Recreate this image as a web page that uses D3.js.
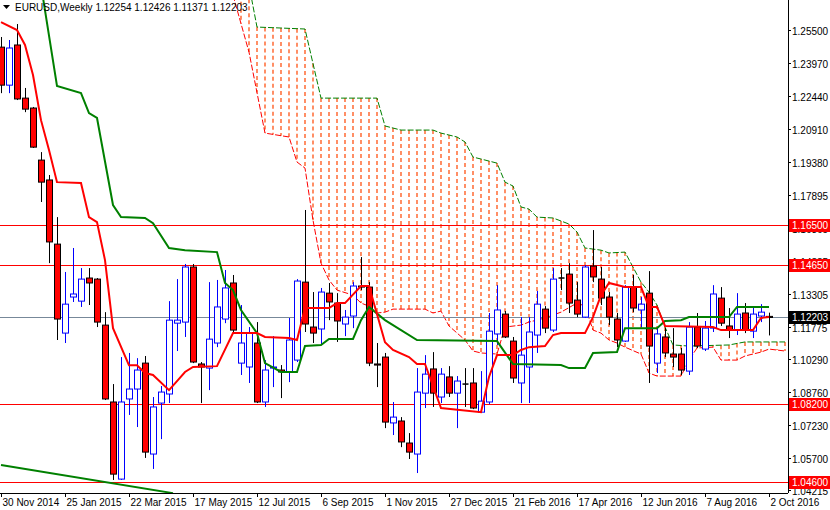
<!DOCTYPE html>
<html>
<head>
<meta charset="utf-8">
<script src="https://cdn.jsdelivr.net/npm/d3@7.9.0/dist/d3.min.js"></script>
<style>
  body { margin: 0; background: #fff; }
  svg { display: block; font-family: "Liberation Sans", Arial, sans-serif; }
</style>
</head>
<body>
<svg id="chart" width="830" height="510"></svg>
<script>
// weekly candles [open, high, low, close], first bar = 30 Nov 2014
const candles = [
  [1.2472,1.2519,1.2259,1.2296],[1.2296,1.2505,1.2259,1.2468],[1.2482,1.2579,1.2227,1.2232],
  [1.2236,1.2283,1.2171,1.2185],[1.2190,1.2195,1.2005,1.2009],[1.1949,1.1986,1.1755,1.1847],
  [1.1857,1.1880,1.1472,1.1570],[1.1560,1.1685,1.1116,1.1213],[1.1148,1.1431,1.1102,1.1282],
  [1.1315,1.1542,1.1292,1.1329],[1.1296,1.1449,1.1269,1.1398],[1.1403,1.1449,1.1278,1.1380],
  [1.1398,1.1403,1.1176,1.1199],[1.1185,1.1245,1.0838,1.0843],[1.0829,1.0912,1.0468,1.0495],
  [1.0472,1.1037,1.0468,1.0829],[1.0843,1.1056,1.0769,1.0889],[1.0889,1.1032,1.0713,1.0977],
  [1.1009,1.1042,1.0570,1.0597],[1.0588,1.0852,1.0519,1.0806],[1.0824,1.0903,1.0657,1.0875],
  [1.0866,1.1296,1.0824,1.1208],[1.1194,1.1398,1.1065,1.1208],[1.1199,1.1468,1.1130,1.1454],
  [1.1454,1.1468,1.1009,1.1014],[1.1005,1.1014,1.0824,1.0991],[1.0986,1.1384,1.0884,1.1120],
  [1.1102,1.1394,1.1083,1.1269],[1.1213,1.1440,1.1194,1.1357],[1.1380,1.1417,1.1148,1.1162],
  [1.1009,1.1278,1.0954,1.1102],[1.0991,1.1176,1.0917,1.1148],[1.1102,1.1199,1.0824,1.0829],
  [1.0829,1.1023,1.0806,1.0977],[1.0986,1.1134,1.0898,1.0991],[1.0977,1.1000,1.0847,1.0968],
  [1.0968,1.1218,1.0921,1.1116],[1.1023,1.1398,1.1014,1.1389],[1.1384,1.1718,1.1153,1.1190],
  [1.1176,1.1338,1.1102,1.1148],[1.1167,1.1357,1.1093,1.1338],[1.1333,1.1380,1.1208,1.1292],
  [1.1287,1.1333,1.1107,1.1204],[1.1190,1.1255,1.1134,1.1222],[1.1227,1.1384,1.1171,1.1366],
  [1.1366,1.1500,1.1347,1.1361],[1.1361,1.1384,1.0995,1.1009],[1.1005,1.1102,1.0898,1.1000],
  [1.1037,1.1056,1.0708,1.0736],[1.0732,1.0829,1.0676,1.0759],[1.0741,1.0759,1.0620,1.0644],
  [1.0639,1.0685,1.0565,1.0597],[1.0588,1.0986,1.0500,1.0875],[1.0870,1.1046,1.0801,1.0958],
  [1.0982,1.1060,1.0806,1.0870],[1.0852,1.0986,1.0824,1.0958],[1.0945,1.0995,1.0852,1.0870],
  [1.0870,1.0949,1.0708,1.0926],[1.0912,1.0986,1.0806,1.0912],[1.0917,1.0986,1.0796,1.0801],
  [1.0782,1.0972,1.0780,1.0833],[1.0829,1.1241,1.0819,1.1157],[1.1144,1.1370,1.1093,1.1255],
  [1.1236,1.1250,1.1125,1.1130],[1.1111,1.1130,1.0917,1.0940],[1.0917,1.1222,1.0824,1.1046],
  [1.0991,1.1222,1.0824,1.1153],[1.1139,1.1343,1.1056,1.1282],[1.1259,1.1273,1.1148,1.1171],
  [1.1162,1.1449,1.1153,1.1398],[1.1403,1.1449,1.1347,1.1403],[1.1421,1.1472,1.1241,1.1287],
  [1.1301,1.1384,1.1222,1.1236],[1.1222,1.1463,1.1218,1.1454],[1.1458,1.1625,1.1384,1.1408],
  [1.1398,1.1454,1.1278,1.1310],[1.1315,1.1338,1.1185,1.1222],[1.1213,1.1241,1.1083,1.1116],
  [1.1111,1.1370,1.1107,1.1361],[1.1361,1.1417,1.1245,1.1264],[1.1255,1.1315,1.1176,1.1282],
  [1.1333,1.1435,1.0917,1.1088],[1.1009,1.1176,1.0963,1.1144],[1.1130,1.1171,1.1037,1.1056],
  [1.1051,1.1171,1.0991,1.1037],[1.1051,1.1079,1.0954,1.0977],[1.0972,1.1199,1.0954,1.1176],
  [1.1176,1.1241,1.1079,1.1088],[1.1074,1.1204,1.1065,1.1171],[1.1171,1.1370,1.1153,1.1329],
  [1.1310,1.1361,1.1181,1.1194],[1.1181,1.1264,1.1125,1.1162],[1.1162,1.1333,1.1139,1.1236],
  [1.1241,1.1287,1.1148,1.1162],[1.1157,1.1264,1.1125,1.1236],[1.1227,1.1282,1.1199,1.1245],
  [1.12254,1.12426,1.11371,1.12203]
];

// indicator lines as [bar, price] vertices
const tenkan = [[0,1.2588],[2,1.2551],[3,1.2482],[4,1.2343],[5,1.2134],[6,1.1996],[7,1.1847],[10,1.1843],
  [11,1.1685],[12,1.1662],[13,1.1486],[14,1.1171],[16,1.0999],[17,1.0999],[18,1.0963],[19,1.0954],
  [21,1.0884],[22,1.0926],[23,1.0968],[24,1.0991],[27,1.0995],[29,1.1148],[32,1.1148],[33,1.1130],
  [36,1.1125],[37,1.1116],[38,1.1264],[41,1.1264],[42,1.1287],[43,1.1287],[45,1.1366],[46,1.1366],
  [48,1.1106],[49,1.1070],[51,1.1037],[52,1.1005],[53,1.1005],[55,1.0801],[60,1.0782],[61,1.0945],
  [62,1.1046],[64,1.1046],[65,1.1070],[66,1.1083],[68,1.1088],[69,1.1139],[70,1.1148],[73,1.1148],
  [74,1.1222],[75,1.1324],[76,1.1380],[78,1.1361],[80,1.1361],[81,1.1269],[82,1.1269],[83,1.1181],
  [89,1.1176],[90,1.1162],[94,1.1162],[95,1.1218],[96,1.1222]];
const kijun = [[5,1.2759],[7,1.2292],[10,1.2259],[11,1.2167],[12,1.2144],[14,1.1741],[15,1.1685],
  [18,1.1681],[19,1.1657],[21,1.1542],[23,1.1532],[27,1.1523],[28,1.1380],[29,1.1347],[30,1.1255],
  [32,1.1148],[33,1.1009],[35,1.0968],[37,1.0968],[38,1.1088],[40,1.1093],[41,1.1121],[44,1.1121],
  [45,1.1208],[46,1.1269],[48,1.1208],[52,1.1116],[62,1.1111],[64,1.1005],[70,1.1000],[71,1.0986],
  [73,1.0986],[74,1.1056],[77,1.1060],[78,1.1171],[82,1.1171],[83,1.1204],[85,1.1208],[86,1.1222],
  [91,1.1222],[92,1.1269],[96,1.1269]];
const spanA = [[29,1.2713],[31,1.2449],[33,1.2074],[36,1.2056],[37,1.1940],[38,1.1912],[39,1.1671],
  [40,1.1472],[41,1.1394],[42,1.1347],[44,1.1324],[45,1.1287],[46,1.1273],[47,1.1241],[48,1.1245],
  [49,1.1259],[53,1.1259],[54,1.1241],[55,1.1250],[56,1.1181],[58,1.1116],[59,1.1065],[60,1.1056],
  [62,1.1051],[63,1.1176],[65,1.1185],[66,1.1199],[68,1.1218],[70,1.1245],[72,1.1287],[73,1.1273],
  [74,1.1162],[75,1.1148],[76,1.1116],[77,1.1102],[78,1.1083],[80,1.1051],[81,1.0963],[82,1.0949],
  [85,1.0949],[86,1.1023],[87,1.1079],[89,1.1083],[90,1.1023],[92,1.1023],[93,1.1042],[95,1.1060],
  [96,1.1074],[98,1.1065]];
const spanB = [[29,1.2800],[31,1.2759],[32,1.2565],[38,1.2556],[40,1.2236],[47,1.2236],[48,1.2107],
  [50,1.2088],[54,1.2088],[55,1.2074],[57,1.2056],[58,1.2033],[59,1.1963],[60,1.1954],[62,1.1935],
  [63,1.1847],[64,1.1829],[65,1.1732],[66,1.1722],[67,1.1685],[69,1.1681],[71,1.1653],[72,1.1616],
  [73,1.1542],[75,1.1532],[76,1.1519],[78,1.1523],[80,1.1384],[81,1.1338],[82,1.1278],[83,1.1176],
  [84,1.1093],[86,1.1088],[91,1.1093],[93,1.1107],[98,1.1107]];
const trendLine = [[0,1.0537],[21.5,1.0407]];

const levels = ["1.16500","1.14650","1.08200","1.04600"];
const lastPrice = "1.12203";
const priceTicks = ["1.25500","1.23970","1.22440","1.20910","1.19380","1.17895","1.16365","1.14835",
  "1.13305","1.11775","1.10290","1.08760","1.07230","1.05700","1.04215"];
const dateTicks = ["30 Nov 2014","25 Jan 2015","22 Mar 2015","17 May 2015","12 Jul 2015","6 Sep 2015",
  "1 Nov 2015","27 Dec 2015","21 Feb 2016","17 Apr 2016","12 Jun 2016","7 Aug 2016","2 Oct 2016"];
const header = "EURUSD,Weekly  1.12254 1.12426 1.11371 1.12203";

const W = 830, H = 510, plotR = 788, plotB = 493;
const svg = d3.select("#chart");
const x = d3.scaleLinear().domain([0, 96]).range([1, 769]);
const y = d3.scaleLinear().domain([1.2556, 1.04215]).range([29, 490]);

svg.append("clipPath").attr("id", "clip")
  .append("rect").attr("width", plotR).attr("height", plotB);
const plot = svg.append("g").attr("clip-path", "url(#clip)");

// cloud hatch: one dashed vertical per bar between the two spans
const interp = (pts) => d3.scaleLinear().domain(pts.map(d => d[0])).range(pts.map(d => d[1]));
const fa = interp(spanA), fb = interp(spanB);
d3.range(29, 99).forEach(i => {
  plot.append("line")
    .attr("x1", x(i)).attr("x2", x(i))
    .attr("y1", y(fb(i))).attr("y2", y(fa(i)))
    .attr("stroke", "#ff4500").attr("stroke-width", 1.2)
    .attr("stroke-dasharray", "4,3");
});

const line = d3.line().x(d => x(d[0])).y(d => y(d[1]));
plot.append("path").attr("d", line(spanA)).attr("fill", "none").attr("stroke", "#ff0000")
  .attr("stroke-width", 1).attr("stroke-dasharray", "6,2");
plot.append("path").attr("d", line(spanB)).attr("fill", "none").attr("stroke", "#008000")
  .attr("stroke-width", 1).attr("stroke-dasharray", "6,2");

// horizontal levels
const hline = (v, col) => plot.append("line").attr("x1", 0).attr("x2", plotR)
  .attr("y1", Math.round(y(+v)) + 0.5).attr("y2", Math.round(y(+v)) + 0.5)
  .attr("stroke", col).attr("stroke-width", 1);
levels.forEach(l => hline(l, "#ff0000"));
hline(lastPrice, "#778899");

// candles
candles.forEach((c, i) => {
  const [o, h, l, cl] = c;
  const cx = Math.round(x(i)) + 0.5;
  const bull = cl > o, doji = Math.abs(cl - o) < 0.00015;
  const col = doji ? "#000" : (bull ? "#0000ff" : "#000");
  plot.append("line").attr("x1", cx).attr("x2", cx).attr("y1", y(h)).attr("y2", y(l))
    .attr("stroke", col).attr("stroke-width", 1);
  const top = y(Math.max(o, cl)), bot = y(Math.min(o, cl));
  if (doji) {
    plot.append("line").attr("x1", cx - 3).attr("x2", cx + 3).attr("y1", (top + bot) / 2).attr("y2", (top + bot) / 2)
      .attr("stroke", "#000").attr("stroke-width", 1.5);
  } else {
    plot.append("rect").attr("x", cx - 3).attr("y", top).attr("width", 6).attr("height", Math.max(1, bot - top))
      .attr("fill", bull ? "#fff" : "#ff0000").attr("stroke", col).attr("stroke-width", 1);
  }
});

plot.append("path").attr("d", line(kijun)).attr("fill", "none").attr("stroke", "#008000").attr("stroke-width", 2);
plot.append("path").attr("d", line(tenkan)).attr("fill", "none").attr("stroke", "#ff0000").attr("stroke-width", 2);
plot.append("path").attr("d", line(trendLine)).attr("fill", "none").attr("stroke", "#008000").attr("stroke-width", 2);

// axes frame
svg.append("line").attr("x1", plotR + 0.5).attr("x2", plotR + 0.5).attr("y1", 0).attr("y2", plotB).attr("stroke", "#000");
svg.append("line").attr("x1", 0).attr("x2", plotR).attr("y1", plotB + 0.5).attr("y2", plotB + 0.5).attr("stroke", "#000");

const fontSize = 10;
priceTicks.forEach(t => {
  const yy = Math.round(y(+t)) + 0.5;
  svg.append("line").attr("x1", plotR).attr("x2", plotR + 3).attr("y1", yy).attr("y2", yy).attr("stroke", "#000");
  svg.append("text").attr("x", plotR + 4).attr("y", yy + 4).attr("font-size", fontSize).text(t);
});

const tag = (v, bg) => {
  const yy = Math.round(y(+v));
  svg.append("rect").attr("x", plotR + 1).attr("y", yy - 6).attr("width", W - plotR - 1).attr("height", 13).attr("fill", bg);
  svg.append("text").attr("x", plotR + 4).attr("y", yy + 4).attr("font-size", fontSize).attr("fill", "#fff").text(v);
};
levels.forEach(l => tag(l, "#ff0000"));
tag(lastPrice, "#000");

dateTicks.forEach((t, k) => {
  const xx = Math.round(x(k * 8)) + 0.5;
  svg.append("line").attr("x1", xx).attr("x2", xx).attr("y1", plotB).attr("y2", plotB + 4).attr("stroke", "#000");
  svg.append("text").attr("x", xx + 1).attr("y", plotB + 13).attr("font-size", fontSize).text(t);
});

// header
svg.append("path").attr("d", "M3,5 L10,5 L6.5,9 Z").attr("fill", "#000");
svg.append("text").attr("x", 15).attr("y", 11).attr("font-size", fontSize).text(header);
</script>
</body>
</html>
